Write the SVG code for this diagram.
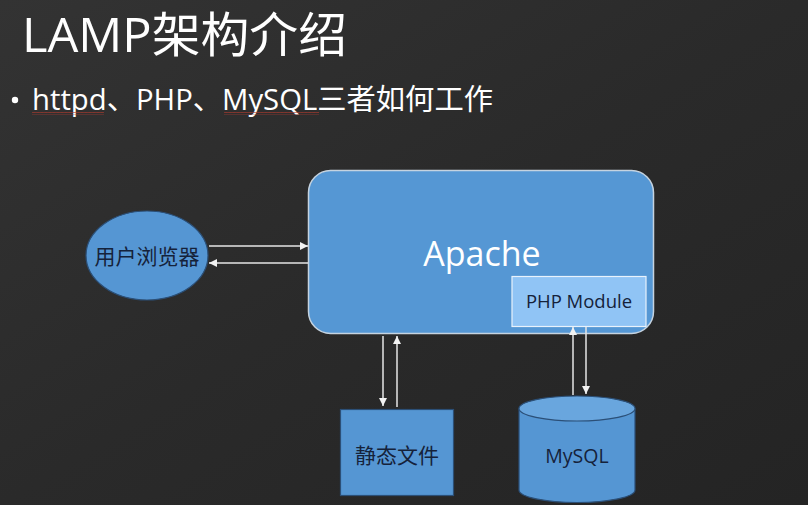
<svg xmlns="http://www.w3.org/2000/svg" width="808" height="505" viewBox="0 0 808 505">
  <defs>
    <linearGradient id="bg" x1="0" y1="0" x2="1" y2="1">
      <stop offset="0" stop-color="#333333"/>
      <stop offset="0.5" stop-color="#2a2a2a"/>
      <stop offset="1" stop-color="#242424"/>
    </linearGradient>
    <marker id="ah" viewBox="0 0 10 10" refX="10" refY="5" markerWidth="8" markerHeight="8" markerUnits="userSpaceOnUse" orient="auto">
      <path d="M0,0 L10,5 L0,10 z" fill="#f2f2f2"/>
    </marker>
    <pattern id="squig" x="0" y="0" width="4" height="3" patternUnits="userSpaceOnUse">
      <path d="M0,2 L1,0.5 L2,2 L3,0.5 L4,2" fill="none" stroke="#b03a2e" stroke-width="0.7"/>
    </pattern>
  </defs>
  <style>
    .title { font-family: "Open Sans", "Noto Sans CJK SC", sans-serif; fill: #ffffff; }
    .dark { font-family: "Open Sans", "Noto Sans CJK SC", sans-serif; fill: #15223a; text-anchor: middle; }
    .conn { stroke: #e6e6e6; stroke-width: 1.5; fill: none; marker-end: url(#ah); }
    .box { fill: #5596d3; stroke: #2b4f77; stroke-width: 1.2; }
  </style>
  <rect width="808" height="505" fill="url(#bg)"/>

  <g id="title">
    <text class="title" x="22" y="52" font-size="48" textLength="325" lengthAdjust="spacingAndGlyphs">LAMP架构介绍</text>
  </g>
  <g id="bullet">
    <circle cx="15" cy="100" r="3.2" fill="#ffffff"/>
    <text class="title" x="32" y="110" font-size="29" textLength="461" lengthAdjust="spacingAndGlyphs">httpd、PHP、MySQL三者如何工作</text>
    <rect x="32" y="112" width="72" height="3" fill="url(#squig)"/>
    <rect x="224" y="112" width="95" height="3" fill="url(#squig)"/>
  </g>

  <g id="browser">
    <ellipse cx="147" cy="255.5" rx="61" ry="44.5" class="box"/>
    <text class="dark" x="147" y="264" font-size="21">用户浏览器</text>
  </g>

  <g id="apache">
    <rect x="308.5" y="170.5" width="345" height="163" rx="22" ry="22" fill="#5597d4" stroke="#c5d3e0" stroke-width="1.5"/>
    <text x="482" y="266" font-size="34" fill="#ffffff" text-anchor="middle" font-family="'Open Sans', 'Noto Sans CJK SC', sans-serif">Apache</text>
  </g>

  <g id="php-module">
    <rect x="512" y="276.5" width="134" height="50" fill="#90c4f5" stroke="#e8f2fc" stroke-width="1.2"/>
    <text class="dark" x="579" y="308" font-size="18.5">PHP Module</text>
  </g>

  <g id="static-files">
    <rect x="340.5" y="409.5" width="113" height="86" class="box"/>
    <text class="dark" x="397" y="463" font-size="21">静态文件</text>
  </g>

  <g id="mysql">
    <path d="M519,408.5 L519,490 A58,12.5 0 0 0 635,490 L635,408.5" fill="#5596d3" stroke="#2b4f77" stroke-width="1.2"/>
    <ellipse cx="577" cy="408.5" rx="58" ry="12.5" fill="#69a6de" stroke="#2b4f77" stroke-width="1.2"/>
    <text class="dark" x="577" y="463" font-size="19.5">MySQL</text>
  </g>

  <g id="connectors">
    <line class="conn" x1="209" y1="246" x2="308" y2="246"/>
    <line class="conn" x1="308" y1="263" x2="209" y2="263"/>
    <line class="conn" x1="383" y1="336" x2="383" y2="406"/>
    <line class="conn" x1="397" y1="407" x2="397" y2="336"/>
    <line class="conn" x1="573" y1="395" x2="573" y2="327"/>
    <line class="conn" x1="586" y1="327" x2="586" y2="394"/>
  </g>
</svg>
